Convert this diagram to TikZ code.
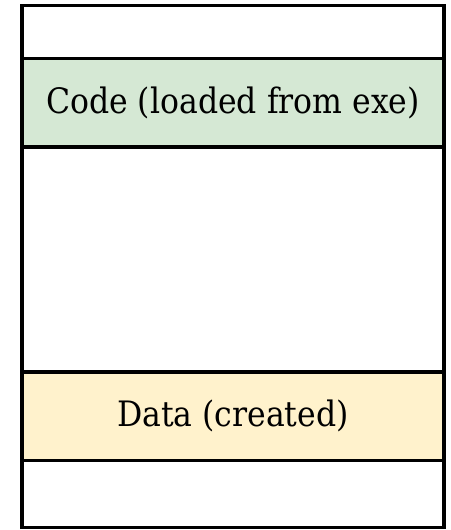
\documentclass[tikz,border=0pt]{standalone}
\usepackage{fontspec}
\setmainfont{DejaVu Serif Condensed}
\usetikzlibrary{positioning}
\definecolor{codegreen}{HTML}{D5E8D4}
\definecolor{datayellow}{HTML}{FFF2CC}

\begin{document}
\begin{tikzpicture}[x=1pt, y=-1pt,
  memline/.style={draw, line width=3.5pt},
  band/.style={memline, minimum width=422pt, minimum height=88.5pt, inner sep=0pt, font=\fontsize{35}{40}\selectfont}]
\useasboundingbox (0,0) rectangle (450,530);
% Whole memory box
\node[memline, minimum width=422pt, minimum height=522pt, inner sep=0pt] (mem) at (233, 266.5) {};
% Segments
\node[band, fill=codegreen] (code) at (233, 102.5) {Code (loaded from exe)};
\node[band, fill=datayellow] (data) at (233, 416) {Data (created)};
\end{tikzpicture}
\end{document}
